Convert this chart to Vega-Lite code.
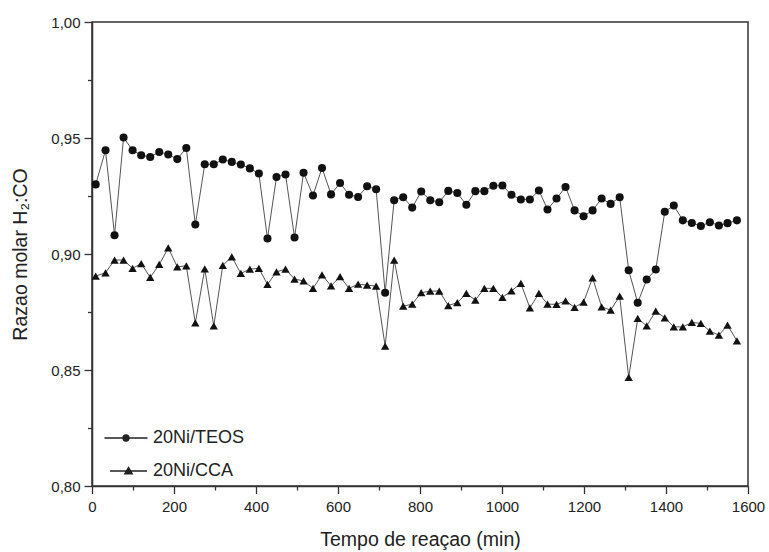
{
  "$schema": "https://vega.github.io/schema/vega-lite/v6.json",
  "width": 656,
  "height": 464,
  "autosize": "none",
  "padding": {"left": 92, "top": 22, "right": 21, "bottom": 66},
  "background": "white",
  "config": {
    "font": "Liberation Sans",
    "view": {"stroke": "#333", "strokeWidth": 1.5},
    "axis": {"grid": false, "domainColor": "#333", "domainWidth": 1.5, "tickColor": "#333", "tickWidth": 1.3, "labelColor": "#222", "titleColor": "#222", "labelFont": "Liberation Sans", "titleFont": "Liberation Sans", "labelFontSize": 15, "titleFontSize": 19.5, "titleFontWeight": "normal"}
  },
  "data": {"values": [
    {"t":9,"v":0.930,"s":"20Ni/TEOS"},{"t":33,"v":0.9447,"s":"20Ni/TEOS"},{"t":55,"v":0.9081,"s":"20Ni/TEOS"},{"t":77,"v":0.9502,"s":"20Ni/TEOS"},{"t":99,"v":0.9447,"s":"20Ni/TEOS"},{"t":120,"v":0.9426,"s":"20Ni/TEOS"},{"t":142,"v":0.9418,"s":"20Ni/TEOS"},{"t":164,"v":0.944,"s":"20Ni/TEOS"},{"t":186,"v":0.9429,"s":"20Ni/TEOS"},{"t":208,"v":0.9409,"s":"20Ni/TEOS"},{"t":230,"v":0.9457,"s":"20Ni/TEOS"},{"t":252,"v":0.9127,"s":"20Ni/TEOS"},{"t":275,"v":0.9387,"s":"20Ni/TEOS"},{"t":297,"v":0.9387,"s":"20Ni/TEOS"},{"t":319,"v":0.9407,"s":"20Ni/TEOS"},{"t":341,"v":0.9397,"s":"20Ni/TEOS"},{"t":363,"v":0.9386,"s":"20Ni/TEOS"},{"t":385,"v":0.9369,"s":"20Ni/TEOS"},{"t":407,"v":0.9347,"s":"20Ni/TEOS"},{"t":428,"v":0.9067,"s":"20Ni/TEOS"},{"t":450,"v":0.9332,"s":"20Ni/TEOS"},{"t":472,"v":0.9343,"s":"20Ni/TEOS"},{"t":494,"v":0.9071,"s":"20Ni/TEOS"},{"t":516,"v":0.935,"s":"20Ni/TEOS"},{"t":539,"v":0.9252,"s":"20Ni/TEOS"},{"t":561,"v":0.9371,"s":"20Ni/TEOS"},{"t":583,"v":0.9257,"s":"20Ni/TEOS"},{"t":605,"v":0.9306,"s":"20Ni/TEOS"},{"t":627,"v":0.9255,"s":"20Ni/TEOS"},{"t":649,"v":0.9246,"s":"20Ni/TEOS"},{"t":671,"v":0.9292,"s":"20Ni/TEOS"},{"t":693,"v":0.9279,"s":"20Ni/TEOS"},{"t":715,"v":0.8833,"s":"20Ni/TEOS"},{"t":737,"v":0.9232,"s":"20Ni/TEOS"},{"t":759,"v":0.9245,"s":"20Ni/TEOS"},{"t":781,"v":0.920,"s":"20Ni/TEOS"},{"t":803,"v":0.9269,"s":"20Ni/TEOS"},{"t":825,"v":0.9232,"s":"20Ni/TEOS"},{"t":847,"v":0.9223,"s":"20Ni/TEOS"},{"t":869,"v":0.9272,"s":"20Ni/TEOS"},{"t":891,"v":0.9263,"s":"20Ni/TEOS"},{"t":913,"v":0.9212,"s":"20Ni/TEOS"},{"t":935,"v":0.9271,"s":"20Ni/TEOS"},{"t":957,"v":0.9271,"s":"20Ni/TEOS"},{"t":979,"v":0.9294,"s":"20Ni/TEOS"},{"t":1001,"v":0.9295,"s":"20Ni/TEOS"},{"t":1023,"v":0.9255,"s":"20Ni/TEOS"},{"t":1046,"v":0.9235,"s":"20Ni/TEOS"},{"t":1068,"v":0.9235,"s":"20Ni/TEOS"},{"t":1090,"v":0.9274,"s":"20Ni/TEOS"},{"t":1111,"v":0.9192,"s":"20Ni/TEOS"},{"t":1133,"v":0.9239,"s":"20Ni/TEOS"},{"t":1155,"v":0.9289,"s":"20Ni/TEOS"},{"t":1177,"v":0.9188,"s":"20Ni/TEOS"},{"t":1199,"v":0.9163,"s":"20Ni/TEOS"},{"t":1221,"v":0.9188,"s":"20Ni/TEOS"},{"t":1243,"v":0.9239,"s":"20Ni/TEOS"},{"t":1265,"v":0.9216,"s":"20Ni/TEOS"},{"t":1287,"v":0.9245,"s":"20Ni/TEOS"},{"t":1309,"v":0.893,"s":"20Ni/TEOS"},{"t":1331,"v":0.879,"s":"20Ni/TEOS"},{"t":1353,"v":0.889,"s":"20Ni/TEOS"},{"t":1375,"v":0.8933,"s":"20Ni/TEOS"},{"t":1397,"v":0.9182,"s":"20Ni/TEOS"},{"t":1419,"v":0.9209,"s":"20Ni/TEOS"},{"t":1441,"v":0.9145,"s":"20Ni/TEOS"},{"t":1463,"v":0.9134,"s":"20Ni/TEOS"},{"t":1485,"v":0.9121,"s":"20Ni/TEOS"},{"t":1507,"v":0.9137,"s":"20Ni/TEOS"},{"t":1529,"v":0.9123,"s":"20Ni/TEOS"},{"t":1550,"v":0.9133,"s":"20Ni/TEOS"},{"t":1573,"v":0.9145,"s":"20Ni/TEOS"},
    {"t":9,"v":0.8905,"s":"20Ni/CCA"},{"t":33,"v":0.8919,"s":"20Ni/CCA"},{"t":55,"v":0.8974,"s":"20Ni/CCA"},{"t":77,"v":0.8974,"s":"20Ni/CCA"},{"t":99,"v":0.8938,"s":"20Ni/CCA"},{"t":120,"v":0.8959,"s":"20Ni/CCA"},{"t":142,"v":0.8899,"s":"20Ni/CCA"},{"t":164,"v":0.8955,"s":"20Ni/CCA"},{"t":186,"v":0.9026,"s":"20Ni/CCA"},{"t":208,"v":0.8945,"s":"20Ni/CCA"},{"t":230,"v":0.8949,"s":"20Ni/CCA"},{"t":252,"v":0.8703,"s":"20Ni/CCA"},{"t":275,"v":0.8936,"s":"20Ni/CCA"},{"t":297,"v":0.869,"s":"20Ni/CCA"},{"t":319,"v":0.8951,"s":"20Ni/CCA"},{"t":341,"v":0.8988,"s":"20Ni/CCA"},{"t":363,"v":0.8916,"s":"20Ni/CCA"},{"t":385,"v":0.8935,"s":"20Ni/CCA"},{"t":407,"v":0.8938,"s":"20Ni/CCA"},{"t":428,"v":0.8869,"s":"20Ni/CCA"},{"t":450,"v":0.8923,"s":"20Ni/CCA"},{"t":472,"v":0.8935,"s":"20Ni/CCA"},{"t":494,"v":0.8892,"s":"20Ni/CCA"},{"t":516,"v":0.8884,"s":"20Ni/CCA"},{"t":539,"v":0.8852,"s":"20Ni/CCA"},{"t":561,"v":0.891,"s":"20Ni/CCA"},{"t":583,"v":0.8863,"s":"20Ni/CCA"},{"t":605,"v":0.8902,"s":"20Ni/CCA"},{"t":627,"v":0.8852,"s":"20Ni/CCA"},{"t":649,"v":0.887,"s":"20Ni/CCA"},{"t":671,"v":0.8866,"s":"20Ni/CCA"},{"t":693,"v":0.8862,"s":"20Ni/CCA"},{"t":715,"v":0.8603,"s":"20Ni/CCA"},{"t":737,"v":0.8974,"s":"20Ni/CCA"},{"t":759,"v":0.8775,"s":"20Ni/CCA"},{"t":781,"v":0.8784,"s":"20Ni/CCA"},{"t":803,"v":0.8833,"s":"20Ni/CCA"},{"t":825,"v":0.884,"s":"20Ni/CCA"},{"t":847,"v":0.884,"s":"20Ni/CCA"},{"t":869,"v":0.8778,"s":"20Ni/CCA"},{"t":891,"v":0.879,"s":"20Ni/CCA"},{"t":913,"v":0.883,"s":"20Ni/CCA"},{"t":935,"v":0.8801,"s":"20Ni/CCA"},{"t":957,"v":0.8852,"s":"20Ni/CCA"},{"t":979,"v":0.8852,"s":"20Ni/CCA"},{"t":1001,"v":0.8813,"s":"20Ni/CCA"},{"t":1023,"v":0.8841,"s":"20Ni/CCA"},{"t":1046,"v":0.8873,"s":"20Ni/CCA"},{"t":1068,"v":0.8768,"s":"20Ni/CCA"},{"t":1090,"v":0.883,"s":"20Ni/CCA"},{"t":1111,"v":0.8784,"s":"20Ni/CCA"},{"t":1133,"v":0.8783,"s":"20Ni/CCA"},{"t":1155,"v":0.8798,"s":"20Ni/CCA"},{"t":1177,"v":0.877,"s":"20Ni/CCA"},{"t":1199,"v":0.8793,"s":"20Ni/CCA"},{"t":1221,"v":0.8897,"s":"20Ni/CCA"},{"t":1243,"v":0.8772,"s":"20Ni/CCA"},{"t":1265,"v":0.8758,"s":"20Ni/CCA"},{"t":1287,"v":0.8818,"s":"20Ni/CCA"},{"t":1309,"v":0.8468,"s":"20Ni/CCA"},{"t":1331,"v":0.8722,"s":"20Ni/CCA"},{"t":1353,"v":0.869,"s":"20Ni/CCA"},{"t":1375,"v":0.8754,"s":"20Ni/CCA"},{"t":1397,"v":0.8725,"s":"20Ni/CCA"},{"t":1419,"v":0.8686,"s":"20Ni/CCA"},{"t":1441,"v":0.8686,"s":"20Ni/CCA"},{"t":1463,"v":0.8705,"s":"20Ni/CCA"},{"t":1485,"v":0.8701,"s":"20Ni/CCA"},{"t":1507,"v":0.8668,"s":"20Ni/CCA"},{"t":1529,"v":0.865,"s":"20Ni/CCA"},{"t":1550,"v":0.8693,"s":"20Ni/CCA"},{"t":1573,"v":0.8626,"s":"20Ni/CCA"}
  ]},
  "encoding": {
    "x": {"field": "t", "type": "quantitative", "scale": {"domain": [0, 1600], "nice": false},
      "axis": {"title": "Tempo de reaçao (min)", "values": [0,100,200,300,400,500,600,700,800,900,1000,1100,1200,1300,1400,1500,1600],
        "labelExpr": "datum.value % 200 == 0 ? datum.value : ''",
        "tickSize": {"condition": {"test": "datum.value % 200 != 0", "value": 4}, "value": 7.5},
        "labelPadding": 6, "titlePadding": 16, "labelFlush": false}},
    "y": {"field": "v", "type": "quantitative", "scale": {"domain": [0.8, 1.0], "nice": false, "zero": false},
      "axis": {"title": "Razao molar H₂:CO", "values": [0.8,0.825,0.85,0.875,0.9,0.925,0.95,0.975,1.0],
        "labelExpr": "round(datum.value*1000) % 50 == 0 ? replace(format(datum.value, '.2f'), '.', ',') : ''",
        "tickSize": {"condition": {"test": "round(datum.value*1000) % 50 != 0", "value": 4.5}, "value": 8},
        "labelPadding": 4, "titlePadding": 20, "labelFlush": false}}
  },
  "resolve": {"scale": {"shape": "independent"}},
  "layer": [
    {"mark": {"type": "line", "color": "#555", "strokeWidth": 1},
     "encoding": {"detail": {"field": "s"}}},
    {"mark": {"type": "point", "filled": true, "color": "#111", "opacity": 1},
     "encoding": {
       "shape": {"field": "s", "type": "nominal",
         "scale": {"domain": ["20Ni/TEOS", "20Ni/CCA"], "range": ["circle", "triangle-up"]},
         "legend": null},
       "size": {"condition": {"test": "datum.s === '20Ni/TEOS'", "value": 65}, "value": 70}
     }},
    {"mark": {"type": "point", "filled": false, "color": "#222", "strokeWidth": 1.3, "opacity": 0},
     "encoding": {
       "shape": {"field": "s", "type": "nominal",
         "scale": {"domain": ["20Ni/TEOS", "20Ni/CCA"], "range": ["M-2.15,0H2.15M0.3,0A0.3,0.3,0,1,1,-0.3,0A0.3,0.3,0,1,1,0.3,0M0.2,0A0.2,0.2,0,1,1,-0.2,0A0.2,0.2,0,1,1,0.2,0M0.1,0A0.1,0.1,0,1,1,-0.1,0A0.1,0.1,0,1,1,0.1,0", "M-1.6,0H2.1M0.25,-0.36L0.63,0.28L-0.13,0.28ZM0.25,-0.24L0.5,0.2L0,0.2ZM0.25,-0.12L0.38,0.12L0.12,0.12ZM0.25,-0.3V0.26"]},
         "legend": {"title": null, "orient": "none", "legendX": 23, "legendY": 405, "padding": 0, "labelFontSize": 18, "labelColor": "#222", "labelFont": "Liberation Sans", "symbolSize": 400, "rowPadding": 13, "labelOffset": 16, "symbolOpacity": 1, "symbolStrokeWidth": 1.3}}
     }}
  ]
}
